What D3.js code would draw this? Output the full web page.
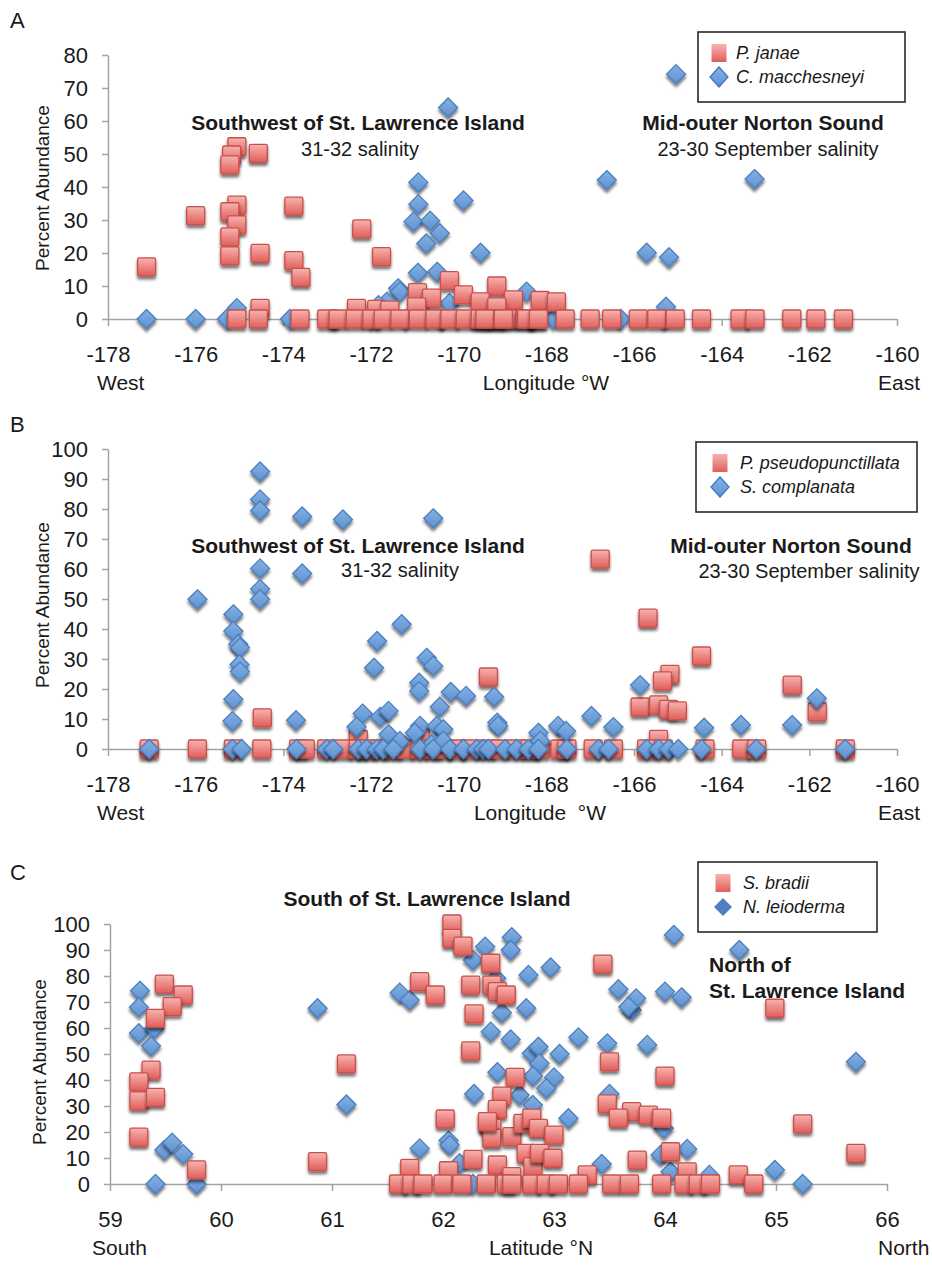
<!DOCTYPE html>
<html><head><meta charset="utf-8">
<script src="https://cdn.jsdelivr.net/npm/d3@7"></script>
<style>
body{margin:0;background:#fff}
svg text{font-family:"Liberation Sans",Arial,Helvetica,sans-serif;fill:#1a1a1a}
</style></head><body>
<svg id="c" width="932" height="1271"></svg>
<script>
// ---------- DATA ----------
// Panel A  [longitude, percent]
const janae = [
 [-177.12,15.8],[-176.0,31.3],[-175.06,52.2],[-175.18,49.7],[-175.22,46.7],[-174.57,50.2],
 [-175.06,34.5],[-175.22,32.5],[-175.06,28.5],[-175.22,24.9],[-175.22,19.1],[-174.53,19.9],
 [-173.76,34.2],[-173.76,17.7],[-173.6,12.6],[-172.21,27.3],[-171.76,18.9],[-174.53,3.2],
 [-170.21,11.6],[-170.94,8.0],[-170.62,6.3],[-169.89,7.3],[-169.13,10.0],[-169.51,5.2],
 [-168.75,5.8],[-172.33,3.2],[-171.87,2.9],[-171.57,2.7],[-170.96,3.7],[-169.13,3.7],
 [-168.14,5.6],[-167.77,5.2],
 [-175.06,0],[-174.57,0],[-173.62,0],[-173.01,0],[-172.75,0],[-172.36,0],[-171.98,0],
 [-171.72,0],[-171.34,0],[-170.92,0],[-170.54,0],[-170.2,0],[-169.85,0],[-169.51,0],
 [-169.32,0],[-169.13,0],[-168.9,0],[-168.49,0],[-168.22,0],[-169.4,0],[-168.98,0],
 [-168.45,0],[-168.18,0],[-167.57,0],[-167.0,0],[-166.51,0],[-165.9,0],[-165.48,0],
 [-165.06,0],[-164.46,0],[-163.58,0],[-163.24,0],[-162.4,0],[-161.85,0],[-161.22,0]
];
const macchesneyi = [
 [-177.12,0],[-176.0,0],[-175.06,3.3],[-175.29,0],[-173.85,0],[-170.92,41.4],[-170.92,34.8],
 [-169.89,35.9],[-171.03,29.5],[-170.65,29.8],[-170.43,26.0],[-170.74,22.9],[-169.5,20.1],
 [-170.93,14.0],[-170.49,14.3],[-171.38,9.3],[-171.34,8.3],[-171.64,5.2],[-171.83,4.2],
 [-170.21,4.8],[-170.88,4.5],[-168.45,8.3],[-170.24,64.1],[-165.04,74.2],[-166.62,42.1],
 [-163.25,42.4],[-165.71,20.1],[-165.2,18.7],[-165.27,3.7],[-167.84,0],
 [-172.8,0],[-172.0,0],[-171.2,0],[-170.4,0],[-169.6,0],[-168.7,0],[-166.3,0],[-165.3,0]
];
// Panel B
const pseudopunctillata = [
 [-169.32,24.0],[-174.48,10.4],[-172.29,3.2],[-170.88,3.8],[-166.77,63.3],[-165.68,43.6],
 [-164.46,31.0],[-165.18,24.9],[-165.35,22.7],[-162.39,21.3],[-161.82,12.4],[-165.86,14.0],
 [-165.44,14.7],[-165.21,13.2],[-165.01,12.7],[-165.44,3.2],
 [-177.06,0],[-175.96,0],[-175.14,0],[-174.49,0],[-173.65,0],[-173.5,0],[-173.01,0],
 [-172.63,0],[-172.29,0],[-172.1,0],[-171.79,0],[-171.49,0],[-171.22,0],[-170.88,0],
 [-170.58,0],[-170.35,0],[-170.04,0],[-169.74,0],[-169.36,0],[-169.06,0],[-168.68,0],
 [-168.37,0],[-168.14,0],[-167.69,0],[-167.53,0],[-166.93,0],[-166.47,0],[-165.71,0],
 [-165.33,0],[-164.38,0],[-163.54,0],[-163.2,0],[-161.18,0]
];
const complanata = [
 [-174.53,92.5],[-174.53,83.2],[-174.53,79.5],[-173.57,77.5],[-172.64,76.5],[-170.58,76.9],
 [-174.53,60.2],[-173.57,58.5],[-174.53,53.3],[-174.53,49.9],[-175.96,49.9],[-175.14,44.9],
 [-175.14,39.3],[-175.03,34.9],[-174.99,33.8],[-175.0,28.2],[-174.99,25.8],[-175.14,16.6],
 [-175.16,9.3],[-173.71,9.6],[-171.3,41.6],[-171.86,36.0],[-171.93,27.1],[-170.73,30.4],
 [-170.58,27.7],[-170.9,22.1],[-170.9,19.3],[-170.18,19.0],[-169.83,17.7],[-169.19,17.4],
 [-170.43,14.1],[-172.19,11.8],[-172.33,7.4],[-171.79,10.7],[-171.6,12.7],[-171.6,4.9],
 [-171.34,2.7],[-169.12,8.8],[-169.1,7.7],[-170.88,7.7],[-170.5,7.7],[-170.35,6.6],
 [-171.0,5.4],[-170.62,1.5],[-170.35,2.7],[-168.18,5.4],[-165.86,21.3],[-161.83,16.9],
 [-166.97,11.0],[-166.47,7.3],[-167.73,7.7],[-167.55,6.0],[-168.14,2.7],[-164.4,7.1],
 [-163.56,8.0],[-162.39,8.0],
 [-177.06,0],[-175.16,0],[-174.95,0],[-173.7,0],[-173.01,0],[-172.86,0],[-172.29,0],
 [-172.1,0],[-171.87,0],[-171.72,0],[-171.49,0],[-170.88,0],[-170.58,0],[-170.2,0],
 [-169.89,0],[-169.59,0],[-169.44,0],[-169.32,0],[-168.94,0],[-168.68,0],[-168.41,0],
 [-168.18,0],[-167.53,0],[-166.81,0],[-166.58,0],[-165.71,0],[-165.44,0],[-165.21,0],
 [-164.99,0],[-164.46,0],[-163.21,0],[-161.18,0]
];
// Panel C  [latitude, percent]
const bradii = [
 [59.49,76.9],[59.66,72.7],[59.56,68.2],[59.41,63.7],[59.37,43.8],[59.26,39.3],[59.26,32.0],
 [59.41,33.3],[59.26,18.0],[59.78,5.4],[61.13,46.2],[60.87,8.6],[62.28,65.4],[62.25,51.2],
 [62.65,41.0],[62.53,33.8],[62.49,28.7],[62.02,25.0],[62.41,23.3],[62.44,21.4],[62.44,17.6],
 [62.62,18.2],[62.72,23.3],[62.8,25.3],[62.27,9.5],[62.49,7.3],[62.62,2.8],[61.7,6.0],
 [62.05,5.1],[62.75,11.8],[62.81,6.7],[62.08,100],[62.08,94.5],[62.18,91.5],[62.43,84.9],
 [61.79,77.8],[61.93,72.7],[62.25,76.5],[62.44,76.5],[62.49,74.0],[62.57,72.7],[63.44,84.6],
 [64.99,67.6],[63.5,47.0],[64.0,41.5],[65.24,23.1],[65.72,11.8],[62.4,24.0],[62.86,21.4],
 [63.0,18.8],[63.48,30.8],[63.7,27.8],[63.58,25.3],[63.85,26.5],[63.97,25.3],[64.05,12.4],
 [63.75,9.2],[64.2,4.7],[64.66,3.5],[62.87,11.8],[62.99,9.9],[63.3,3.5],
 [61.6,0],[61.72,0],[61.82,0],[62.0,0],[62.17,0],[62.39,0],[62.57,0],[62.8,0],[62.62,0],
 [62.93,0],[63.04,0],[63.22,0],[63.52,0],[63.68,0],[63.97,0],[64.17,0],[64.3,0],[64.41,0],
 [64.8,0]
];
const leioderma = [
 [59.27,74.3],[59.26,68.0],[59.26,58.0],[59.40,59.9],[59.37,53.1],[59.49,13.1],[59.56,15.9],
 [59.66,11.5],[59.41,0],[59.78,0],[60.87,67.6],[61.13,30.6],[61.79,13.7],[62.05,16.7],
 [62.06,15.0],[62.28,34.6],[62.49,43.0],[62.43,58.6],[62.61,55.6],[62.53,65.9],[62.75,67.6],
 [62.8,50.3],[62.69,34.2],[62.81,30.4],[62.15,8.0],[62.27,0],[63.7,66.9],[63.22,56.4],
 [63.48,54.1],[63.84,53.5],[65.72,47.0],[62.86,52.8],[63.05,50.0],[62.87,46.4],[63.0,41.0],
 [62.81,41.5],[62.93,36.8],[63.5,34.6],[63.13,25.3],[63.99,21.4],[64.2,13.5],[63.43,7.7],
 [63.96,11.2],[64.05,4.7],[64.4,3.5],[64.99,5.4],[65.24,0],[61.61,73.6],[61.7,70.8],
 [62.38,91.3],[62.27,86.2],[62.62,94.9],[62.61,90.0],[62.77,80.4],[62.48,79.1],[62.97,83.3],
 [64.08,95.8],[64.67,90.0],[63.58,74.9],[63.74,71.4],[64.0,74.0],[64.15,71.8],[63.67,68.2]
];
const lonTicks = [-178,-176,-174,-172,-170,-168,-166,-164,-162,-160];
const latTicks = [59,60,61,62,63,64,65,66];
const yTicksA = [0,10,20,30,40,50,60,70,80];
const yTicks100 = [0,10,20,30,40,50,60,70,80,90,100];

// ---------- DRAWING ----------
const svg = d3.select("#c");
const defs = svg.append("defs");
const sg = defs.append("linearGradient").attr("id","sqG").attr("x1",0).attr("y1",0).attr("x2",0).attr("y2",1);
sg.append("stop").attr("offset","0%").attr("stop-color","#f7b3af");
sg.append("stop").attr("offset","100%").attr("stop-color","#e05d59");
const dg = defs.append("linearGradient").attr("id","diG").attr("x1",0).attr("y1",0).attr("x2",0).attr("y2",1);
dg.append("stop").attr("offset","0%").attr("stop-color","#86b1e2");
dg.append("stop").attr("offset","100%").attr("stop-color","#5d92d2");
const f = defs.append("filter").attr("id","sh").attr("x","-50%").attr("y","-50%").attr("width","200%").attr("height","200%");
f.append("feDropShadow").attr("dx",0).attr("dy",3).attr("stdDeviation",1.8)
 .attr("flood-color","#000").attr("flood-opacity",0.55);

const FONT = '"Liberation Sans",Arial,Helvetica,sans-serif';
const AX = "#a3a3a3";

function drawSquares(g, data, x, y, s) {
  g.append("g").selectAll("rect").data(data).join("rect")
   .attr("x", d => x(d[0]) - s/2).attr("y", d => y(d[1]) - s/2)
   .attr("width", s).attr("height", s).attr("rx", 1.5)
   .attr("fill", "url(#sqG)").attr("stroke", "#c9504c").attr("stroke-width", 1.3)
   .attr("filter", "url(#sh)");
}
function diamondPath(r){ return `M0,${-r}L${r},0L0,${r}L${-r},0Z`; }
function drawDiamonds(g, data, x, y, r) {
  g.append("g").selectAll("path").data(data).join("path")
   .attr("transform", d => `translate(${x(d[0])},${y(d[1])})`)
   .attr("d", diamondPath(r))
   .attr("fill", "url(#diG)").attr("stroke", "#4a7fc0").attr("stroke-width", 1.3)
   .attr("filter", "url(#sh)");
}

function panel(c) {
  const g = svg.append("g");
  const x = d3.scaleLinear().domain(c.xd).range(c.xr);
  const y = d3.scaleLinear().domain(c.yd).range(c.yr);
  const xa = g.append("g").attr("transform", `translate(0,${c.yr[0]})`)
    .call(d3.axisBottom(x).tickValues(c.xt).tickFormat(d => String(d)).tickSize(7).tickSizeOuter(0).tickPadding(20));
  const ya = g.append("g").attr("transform", `translate(${c.xr[0]},0)`)
    .call(d3.axisLeft(y).tickValues(c.yt).tickFormat(d => String(d)).tickSize(6).tickSizeOuter(0).tickPadding(14));
  [xa, ya].forEach(a => {
    a.selectAll("path,line").attr("stroke", AX).attr("stroke-width", 1.5);
    a.selectAll("text").attr("font-size", 22).attr("font-family", FONT).attr("fill", "#1a1a1a");
  });
  // marks
  c.series.forEach(s => {
    if (s.type === "sq") drawSquares(g, s.data, x, y, 18);
    else drawDiamonds(g, s.data, x, y, 9.5);
  });
  // panel letter
  g.append("text").attr("x", 10).attr("y", c.letterY).attr("font-size", 22).text(c.letter);
  // y title
  g.append("text").attr("transform", `translate(${c.ytX},${c.ytY}) rotate(-90)`)
   .attr("text-anchor", "middle").attr("font-size", 19).text("Percent Abundance");
  // x titles
  const by = c.yr[0] + 71;
  g.append("text").attr("x", c.leftLab[1]).attr("y", by).attr("font-size", 21).text(c.leftLab[0]);
  g.append("text").attr("x", c.midLab[1]).attr("y", by).attr("font-size", 21).attr("text-anchor","middle").style("white-space","pre").text(c.midLab[0]);
  g.append("text").attr("x", c.rightLab[1]).attr("y", by).attr("font-size", 21).text(c.rightLab[0]);
  // annotations
  c.notes.forEach(n => {
    g.append("text").attr("x", n.x).attr("y", n.y).attr("font-size", n.bold ? 21 : 20)
     .attr("font-weight", n.bold ? "bold" : "normal").attr("text-anchor", n.anchor || "middle")
     .text(n.t);
  });
  // legend
  const L = c.legend;
  const lg = g.append("g");
  lg.append("rect").attr("x", L.x).attr("y", L.y).attr("width", L.w).attr("height", L.h)
    .attr("fill", "#fff").attr("stroke", "#2a2a2a").attr("stroke-width", 1.6);
  L.items.forEach((it, i) => {
    const base = L.y + 27 + i * 24;
    const cy = base - 6, cx = L.x + L.sx;
    if (it.type === "sq") {
      lg.append("rect").attr("x", cx - 7.5).attr("y", cy - 9).attr("width", 15).attr("height", 18)
        .attr("fill", "url(#sqG)");
    } else if (it.solid) {
      lg.append("path").attr("transform", `translate(${cx},${cy})`).attr("d", `M0,-9L9,0L0,9L-9,0Z`)
        .attr("fill", "#4f7fc0");
    } else {
      lg.append("path").attr("transform", `translate(${cx},${cy})`).attr("d", `M0,-10L9,0L0,10L-9,0Z`)
        .attr("fill", "url(#diG)").attr("stroke", "#3f77bd").attr("stroke-width", 1.3);
    }
    lg.append("text").attr("x", L.x + L.tx).attr("y", base).attr("font-size", 18)
      .attr("font-style", "italic").text(it.label);
  });
}

panel({
  xd: [-178, -160], xr: [108, 897], yd: [0, 80], yr: [319, 55],
  xt: lonTicks, yt: yTicksA,
  series: [{type: "di", data: macchesneyi}, {type: "sq", data: janae}],
  letter: "A", letterY: 28, ytX: 49, ytY: 188,
  leftLab: ["West", 97], midLab: ["Longitude °W", 546], rightLab: ["East", 878],
  notes: [
    {t: "Southwest of St. Lawrence Island", x: 358, y: 130, bold: true},
    {t: "31-32 salinity", x: 360, y: 156},
    {t: "Mid-outer Norton Sound", x: 763, y: 130, bold: true},
    {t: "23-30 September salinity", x: 768, y: 156}
  ],
  legend: {x: 698, y: 32, w: 207, h: 70, sx: 21, tx: 38, items: [{type: "sq", label: "P. janae"}, {type: "di", label: "C. macchesneyi"}]}
});

panel({
  xd: [-178, -160], xr: [108, 897], yd: [0, 100], yr: [749, 449],
  xt: lonTicks, yt: yTicks100,
  series: [{type: "sq", data: pseudopunctillata}, {type: "di", data: complanata}],
  letter: "B", letterY: 432, ytX: 49, ytY: 605,
  leftLab: ["West", 97], midLab: ["Longitude  °W", 540], rightLab: ["East", 878],
  notes: [
    {t: "Southwest of St. Lawrence Island", x: 358, y: 553, bold: true},
    {t: "31-32 salinity", x: 400, y: 577},
    {t: "Mid-outer Norton Sound", x: 791, y: 553, bold: true},
    {t: "23-30 September salinity", x: 809, y: 578}
  ],
  legend: {x: 696, y: 442, w: 221, h: 70, sx: 24, tx: 44, items: [{type: "sq", label: "P. pseudopunctillata"}, {type: "di", label: "S. complanata"}]}
});

panel({
  xd: [59, 66], xr: [110, 887], yd: [0, 100], yr: [1184, 924],
  xt: latTicks, yt: yTicks100,
  series: [{type: "di", data: leioderma}, {type: "sq", data: bradii}],
  letter: "C", letterY: 880, ytX: 46, ytY: 1062,
  leftLab: ["South", 92], midLab: ["Latitude °N", 541], rightLab: ["North", 878],
  notes: [
    {t: "South of St. Lawrence Island", x: 427, y: 906, bold: true},
    {t: "North of", x: 709, y: 972, bold: true, anchor: "start"},
    {t: "St. Lawrence Island", x: 709, y: 998, bold: true, anchor: "start"}
  ],
  legend: {x: 698, y: 862, w: 179, h: 70, sx: 25, tx: 45, items: [{type: "sq", label: "S. bradii"}, {type: "di", solid: true, label: "N. leioderma"}]}
});
</script>
</body></html>
